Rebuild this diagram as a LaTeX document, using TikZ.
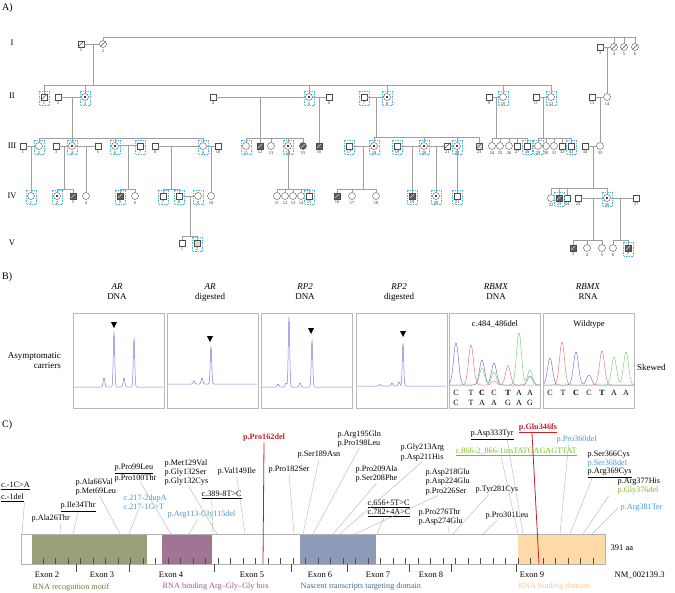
\documentclass[tikz,border=0pt]{standalone}
\usepackage{fontspec}
\setmainfont{Liberation Serif}
\definecolor{testc}{RGB}{70,185,230}
\definecolor{affc}{RGB}{95,95,95}
\definecolor{trc}{RGB}{125,125,215}
\definecolor{chb}{RGB}{120,120,215}
\definecolor{chr}{RGB}{225,125,125}
\definecolor{chg}{RGB}{125,210,125}
\definecolor{domg}{RGB}{152,160,120}
\definecolor{domp}{RGB}{160,116,146}
\definecolor{domb}{RGB}{140,156,184}
\definecolor{domo}{RGB}{253,218,168}
\definecolor{txg}{RGB}{104,122,56}
\definecolor{txp}{RGB}{165,80,155}
\definecolor{txb}{RGB}{60,110,150}
\definecolor{txo}{RGB}{247,200,145}
\definecolor{mblue}{RGB}{70,150,215}
\definecolor{mgreen}{RGB}{120,190,30}
\definecolor{mred}{RGB}{200,30,40}

\begin{document}
\begin{tikzpicture}[x=1pt,y=-1pt,
  declare function={pk(\t,\c,\w)=exp(-min(((\t-\c)/\w)^2,20));}]

\useasboundingbox (0,0) rectangle (675,592);

\tikzset{ped/.style = {draw=gray!75, line width=.4pt}}
\tikzset{male/.style = {rectangle, draw=gray!60!black, line width=.4pt, fill=white, minimum size=6.5pt, inner sep=0pt}}
\tikzset{female/.style = {male, circle, minimum size=7pt}}
\tikzset{deceased/.style = {path picture={\draw[gray!60!black, line width=.4pt] (path picture bounding box.south west) -- (path picture bounding box.north east);}}}
\tikzset{affected/.style = {fill=affc, path picture={\draw[gray!35, line width=.4pt] (path picture bounding box.south west) -- (path picture bounding box.north east);}}}
\tikzset{maleD/.style = {male, deceased}, femaleD/.style = {female, deceased}}
\tikzset{maleA/.style = {male, affected}, femaleA/.style = {female, affected}}
\tikzset{maleG/.style = {male, fill=gray!30}, maleGD/.style = {male, fill=gray!30, deceased}}
\tikzset{femaleC/.style = {female, path picture={\fill[black] (path picture bounding box.center) circle (1.1pt);}}}
\tikzset{num/.style = {font=\fontsize{4.5}{5}\selectfont, inner sep=.3pt, text=black!80}, label distance=1pt}
\tikzset{gen/.style = {font=\fontsize{8.5}{9}\selectfont, inner sep=0pt}}
\tikzset{part/.style = {font=\fontsize{10}{11}\selectfont, inner sep=0pt, anchor=west}}
\tikzset{tbox/.style = {draw=testc, dash pattern=on 1.5pt off 1pt, line width=.6pt}}
\tikzset{hdr/.style = {font=\fontsize{9}{10}\selectfont, align=center, inner sep=0pt}}
\tikzset{panel/.style = {draw=gray!55, line width=.6pt, minimum width=91pt, minimum height=95pt, inner sep=0pt}}
\tikzset{trace/.style = {draw=trc, line width=.5pt}}
\tikzset{base/.style = {font=\fontsize{8}{9}\selectfont, inner sep=0pt}}
\tikzset{mut/.style = {font=\fontsize{8.2}{9.2}\selectfont, inner sep=.5pt, align=left, anchor=west}}
\tikzset{lead/.style = {draw=gray!65, line width=.35pt}}
\tikzset{tick/.style = {draw=gray!60!black, line width=.4pt}}

%%% A) pedigree
\node[part] (pA) at (2,8) {A)};
\node[gen] (gI) at (12,43) {I};
\node[gen] (gII) at (12,96) {II};
\node[gen] (gIII) at (12,146) {III};
\node[gen] (gIV) at (12,196) {IV};
\node[gen] (gV) at (12,243) {V};

%individuals
\foreach \n/\x/\y/\s in {1/81/44/maleD, 2/103/44/femaleD, 3/600/47/male, 4/614/47/femaleD, 5/624/47/femaleD, 6/635/47/femaleD}
  \node[\s, label={[num]below:\n}] (I\n) at (\x,\y) {};
\foreach \n/\x/\s in {1/44/maleD, 2/58/male, 3/85/femaleC, 4/213/male, 5/309/femaleC, 6/329/male, 7/364/male, 8/387/femaleC, 9/489/male, 10/503/female, 11/536/male, 12/551/female, 13/592/male, 14/607/female}
  \node[\s, label={[num]below:\n}] (II\n) at (\x,97) {};
\foreach \n/\x/\s in {1/23/male, 2/39/female, 3/56/male, 4/72/femaleC, 5/98/male, 6/115/femaleC, 7/140/male, 8/155/male, 9/203/female, 10/218/male, 11/246/female, 12/260/maleA, 13/271/female, 14/288/femaleC, 15/303/femaleA, 16/319/maleA, 17/349/male, 18/374/femaleC, 19/397/male, 20/424/femaleC, 21/447/maleD, 22/457/femaleC, 23/479/maleGD, 24/492/female, 25/500/female, 26/509/female, 27/517/male, 28/527/male, 29/538/female, 30/546/female, 31/554/female, 32/562/male, 33/571/male, 34/585/male, 35/600/female}
  \node[\s, label={[num]below:\n}] (III\n) at (\x,146) {};
\foreach \n/\x/\y/\s in {1/31/196/female, 2/57/196/femaleC, 3/73/196/maleA, 4/86/196/female, 5/120/196/maleA, 6/135/196/female, 7/163/196/male, 8/179/196/male, 9/198/196/female, 10/211/196/female, 11/277/196/female, 12/285/196/female, 13/293/196/female, 14/301/196/female, 15/309/196/male, 16/337/196/maleA, 17/352/196/female, 18/376/196/female, 19/412/196/maleA, 20/436/196/femaleC, 21/457/196/male, 22/551/198/female, 23/559/198/maleA, 24/567/198/male, 25/578/198/male, 26/607/198/femaleC, 27/636/198/male}
  \node[\s, label={[num]below:\n}] (IV\n) at (\x,\y) {};
\foreach \n/\x/\y/\s in {1/182/243/male, 2/197/243/maleG, 3/573/248/maleA, 4/587/248/female, 5/602/248/female, 6/613/248/female, 7/628/248/maleA}
  \node[\s, label={[num]below:\n}] (V\n) at (\x,\y) {};

%generation I
\coordinate (tI) at (635,37);
\draw[ped] (I2) |- (tI);
\foreach \c in {I4,I5,I6} \draw[ped] (\c) |- (tI);
\draw[ped] (I1) -- (I2);
\coordinate (fI12) at (93,44);
\coordinate (sI12) at (93,85);
\draw[ped] (fI12) -- (sI12);
\foreach \c in {II1,II3,II5,II8,II10,II12} \draw[ped] (\c) |- (sI12);
\draw[ped] (I3) -- (I4);
\coordinate (fI34) at (607,47);
\draw[ped] (fI34) -- (II14);

%generation II
\draw[ped] (II2) -- (II3);
\coordinate (fII23) at (72,97); \coordinate (sII23) at (72,138);
\draw[ped] (fII23) -- (sII23);
\foreach \c in {III2,III4,III6,III9} \draw[ped] (\c) |- (sII23);
\draw[ped] (II4) -- (II5);
\coordinate (fII45) at (260,97); \coordinate (sII45) at (260,138);
\draw[ped] (fII45) -- (sII45);
\foreach \c in {III11,III12,III13,III14,III15} \draw[ped] (\c) |- (sII45);
\draw[ped] (II5) -- (II6);
\coordinate (fII56) at (319,97);
\draw[ped] (fII56) -- (III16);
\draw[ped] (II7) -- (II8);
\coordinate (fII78) at (376,97); \coordinate (sII78) at (376,137);
\draw[ped] (fII78) -- (sII78);
\foreach \c in {III18,III20,III22,III23} \draw[ped] (\c) |- (sII78);
\draw[ped] (II9) -- (II10);
\coordinate (fII910) at (496,97); \coordinate (sII910) at (496,138);
\draw[ped] (fII910) -- (sII910);
\foreach \c in {III24,III25,III26,III27,III28} \draw[ped] (\c) |- (sII910);
\draw[ped] (II11) -- (II12);
\coordinate (fII1112) at (543,97); \coordinate (sII1112) at (543,138);
\draw[ped] (fII1112) -- (sII1112);
\foreach \c in {III29,III30,III31,III32,III33} \draw[ped] (\c) |- (sII1112);
\draw[ped] (II13) -- (II14);
\coordinate (fII1314) at (600,97);
\draw[ped] (fII1314) -- (III35);

%generation III
\draw[ped] (III1) -- (III2);
\coordinate (fIII12) at (31,146);
\draw[ped] (fIII12) -- (IV1);
\draw[ped] (III3) -- (III4);
\coordinate (fIII34) at (64,146); \coordinate (sIII34) at (64,189);
\draw[ped] (fIII34) -- (sIII34);
\foreach \c in {IV2,IV3} \draw[ped] (\c) |- (sIII34);
\draw[ped] (III4) -- (III5);
\coordinate (fIII45) at (86,146);
\draw[ped] (fIII45) -- (IV4);
\draw[ped, double=white, double distance=.8pt] (III6) -- (III7);
\coordinate (fIII67) at (128,146); \coordinate (sIII67) at (128,189);
\draw[ped] (fIII67) -- (sIII67);
\foreach \c in {IV5,IV6} \draw[ped] (\c) |- (sIII67);
\draw[ped] (III8) -- (III9);
\coordinate (fIII89) at (171,146); \coordinate (sIII89) at (171,189);
\draw[ped] (fIII89) -- (sIII89);
\foreach \c in {IV7,IV8} \draw[ped] (\c) |- (sIII89);
\draw[ped] (III9) -- (III10);
\coordinate (fIII910) at (211,146);
\draw[ped] (fIII910) -- (IV10);
\coordinate (sIII14) at (288,189);
\draw[ped] (III14) -- (sIII14);
\foreach \c in {IV11,IV12,IV13,IV14,IV15} \draw[ped] (\c) |- (sIII14);
\draw[ped] (III17) -- (III18);
\coordinate (fIII1718) at (363,146); \coordinate (sIII1718) at (363,189);
\draw[ped] (fIII1718) -- (sIII1718);
\foreach \c in {IV16,IV17,IV18} \draw[ped] (\c) |- (sIII1718);
\draw[ped] (III19) -- (III20);
\coordinate (fIII1920) at (412,146);
\draw[ped] (fIII1920) -- (IV19);
\draw[ped] (III20) -- (III21);
\coordinate (fIII2021) at (436,146);
\draw[ped] (fIII2021) -- (IV20);
\draw[ped] (III21) -- (III22);
\draw[ped] (III22) -- (IV21);
\draw[ped] (III34) -- (III35);
\coordinate (fIII3435) at (593,146); \coordinate (sIII3435) at (593,188);
\draw[ped] (fIII3435) -- (sIII3435);
\foreach \c in {IV22,IV23,IV24,IV26} \draw[ped] (\c) |- (sIII3435);

%generation IV
\draw[ped] (IV8) -- (IV9);
\coordinate (fIV89) at (190,196); \coordinate (sIV89) at (190,236);
\draw[ped] (fIV89) -- (sIV89);
\foreach \c in {V1,V2} \draw[ped] (\c) |- (sIV89);
\draw[ped] (IV25) -- (IV26);
\coordinate (fIV2526) at (593,198); \coordinate (sIV2526) at (593,240);
\draw[ped] (fIV2526) -- (sIV2526);
\foreach \c in {V3,V4,V5} \draw[ped] (\c) |- (sIV2526);
\draw[ped] (IV26) -- (IV27);
\coordinate (fIV2627) at (620,198); \coordinate (sIV2627) at (620,240);
\draw[ped] (fIV2627) -- (sIV2627);
\foreach \c in {V6,V7} \draw[ped] (\c) |- (sIV2627);

%tested individuals
\foreach \c in {II1,II3,II5,II7,II8,II10,II12,III2,III4,III6,III7,III9,III11,III14,III17,III18,III19,III20,III22,III28,III29,III33,IV1,IV2,IV5,IV7,IV8,IV9,IV15,IV19,IV20,IV21,IV23,IV26,V2,V7}
  \draw[tbox] ([shift={(-5,-6)}]\c.center) rectangle ([shift={(5,8.5)}]\c.center);

%%% B) X-inactivation
\node[part] (pB) at (2,277) {B)};
\node[hdr] (hAR1) at (117,292) {\textit{AR}\\DNA};
\node[hdr] (hAR2) at (210,292) {\textit{AR}\\digested};
\node[hdr] (hRP1) at (305,292) {\textit{RP2}\\DNA};
\node[hdr] (hRP2) at (399,292) {\textit{RP2}\\digested};
\node[hdr] (hRB1) at (496,292) {\textit{RBMX}\\DNA};
\node[hdr] (hRB2) at (588,292) {\textit{RBMX}\\RNA};
\node[hdr, align=right, anchor=east] (carr) at (61,361) {Asymptomatic\\carriers};
\node[hdr, anchor=west] (skew) at (637,367) {Skewed};

\node[panel] (p1) at (118.5,360.5) {};
\node[panel] (p2) at (212.5,360.5) {};
\node[panel] (p3) at (306.5,360.5) {};
\node[panel] (p4) at (401.5,360.5) {};
\node[panel] (p5) at (494.5,360.5) {};
\node[panel] (p6) at (589,360.5) {};

%fragment traces
\draw[trace] plot[domain=74:163, samples=300] (\x, {387-9*pk(\x,104,1.2)-55*pk(\x,114,1)-9*pk(\x,124,1.2)-49*pk(\x,134,1)});
\draw[trace] plot[domain=168:257, samples=300] (\x, {384-3*pk(\x,194,1.2)-6*pk(\x,202,1.2)-38*pk(\x,211,1)});
\draw[trace] plot[domain=261:352, samples=300] (\x, {387-3*pk(\x,278,1.2)-4*pk(\x,286,1.2)-70*pk(\x,289,1)-4*pk(\x,300,1.2)-47*pk(\x,312,1)});
\draw[trace] plot[domain=357:446, samples=300] (\x, {386-1.5*pk(\x,380,1.2)-3*pk(\x,392,1.2)-4*pk(\x,399,1.2)-43*pk(\x,403,1)});
\foreach \x/\y in {114/322, 210/336, 311/328, 403/331}
  \fill (\x-3,\y) -- (\x+3,\y) -- (\x,\y+6) -- cycle;

%chromatograms
\node[base, font=\fontsize{8.5}{9}\selectfont] (t5) at (495,324) {c.484\_486del};
\node[base, font=\fontsize{8.5}{9}\selectfont] (t6) at (589,324) {Wildtype};
\draw[chb, line width=.5pt] plot[domain=449:540, samples=200] (\x, {385-42*pk(\x,456,3.5)-25*pk(\x,482,3.5)-22*pk(\x,494,3.5)-9*pk(\x,530,3.5)});
\draw[chr, line width=.5pt] plot[domain=449:540, samples=200] (\x, {385-40*pk(\x,471,3.5)-19*pk(\x,508,3.5)-4*pk(\x,494,3.5)});
\draw[chg, line width=.5pt] plot[domain=449:540, samples=200] (\x, {385-17*pk(\x,482,3.5)-13*pk(\x,494,3.5)-52*pk(\x,519,3.5)-15*pk(\x,530,3.5)});
\draw[chb, line width=.5pt] plot[domain=544:634, samples=200] (\x, {385-27*pk(\x,550,3.5)-33*pk(\x,576,3.5)-10*pk(\x,589,3.5)});
\draw[chr, line width=.5pt] plot[domain=544:634, samples=200] (\x, {385-43*pk(\x,562,3.5)-34*pk(\x,602,3.5)});
\draw[chg, line width=.5pt] plot[domain=544:634, samples=200] (\x, {385-28*pk(\x,614,3.5)-33*pk(\x,626,3.5)});
\foreach \x/\c [count=\i] in {456/C,471/T,482/\textbf{C},494/C,508/\textbf{T},519/A,530/A}
  \node[base] (bA\i) at (\x,393) {\c};
\foreach \x/\c [count=\i] in {456/C,471/T,482/A,494/A,508/G,519/A,530/G}
  \node[base] (bB\i) at (\x,403) {\c};
\foreach \x/\c [count=\i] in {550/C,563/T,576/\textbf{C},589/C,602/\textbf{T},614/A,626/A}
  \node[base] (bW\i) at (\x,393) {\c};

%%% C) protein
\node[part] (pC) at (2,425) {C)};
\node[minimum width=584pt, minimum height=30pt, inner sep=0pt, outer sep=0pt] (bar) at (313,549) {};
\fill[domg] ([xshift=11]bar.north west) rectangle ([xshift=126]bar.south west);
\fill[domp] ([xshift=141]bar.north west) rectangle ([xshift=191]bar.south west);
\fill[domb] ([xshift=279]bar.north west) rectangle ([xshift=355]bar.south west);
\fill[domo] ([xshift=497]bar.north west) rectangle ([xshift=584]bar.south west);
\draw[gray!60, line width=.5pt] (bar.north west) rectangle (bar.south east);
\foreach \t in {22,34.5,...,580} \draw[tick] ([xshift=\t]bar.south west) -- ++(0,-6);
\foreach \t in {55,108,193,270,326,388,430,495} \draw[tick] ([xshift=\t]bar.south west) -- ++(0,8);
\foreach \x/\e in {47/2,102/3,171/4,252/5,320/6,378/7,431/8,532/9}
  \node[mut, anchor=center, font=\fontsize{8.5}{9}\selectfont] (ex\e) at (\x,575) {Exon \e};
\node[mut, font=\fontsize{8.5}{9}\selectfont] (aa) at (610,548) {391 aa};
\node[mut, font=\fontsize{8.5}{9}\selectfont] (nm) at (614,575) {NM\_002139.3};
\node[mut, text=txg] (d1) at (32,587) {RNA recognition motif};
\node[mut, text=txp] (d2) at (162,587) {RNA binding Arg--Gly--Gly box};
\node[mut, text=txb] (d3) at (300,587) {Nascent transcripts targeting domain};
\node[mut, text=txo] (d4) at (518,587) {RNA binding domain};

%variants
\node[mut] (cA) at (0.5,486) {\underline{c.-1C>A}};
\node[mut] (cdel) at (0.5,498) {\underline{c.-1del}};
\node[mut] (a26) at (31,519) {p.Ala26Thr};
\node[mut] (i34) at (60,507) {\underline{p.Ile34Thr}};
\node[mut] (a66) at (75,487) {p.Ala66Val\\p.Met69Leu};
\node[mut] (p99) at (114,473) {\underline{p.Pro99Leu}\\p.Pro100Thr};
\node[mut, text=mblue] (c217) at (123,502) {c.217-2dupA\\c.217-1G>T};
\node[mut] (m129) at (164,472.5) {p.Met129Val\\p.Gly132Ser\\p.Gly132Cys};
\node[mut, text=mblue] (r113) at (167,515) {p.Arg113-Gly115del};
\node[mut] (c389) at (201,495) {\underline{c.389-8T>C}};
\node[mut] (v149) at (217,472) {p.Val149Ile};
\node[mut, anchor=center, text=mred, font=\fontsize{8.2}{9.2}\selectfont\bfseries] (p162) at (264,438) {p.Pro162del};
\node[mut] (p182) at (268,470) {p.Pro182Ser};
\node[mut] (s189) at (297,455) {p.Ser189Asn};
\node[mut] (r195) at (337,439) {p.Arg195Gln\\p.Pro198Leu};
\node[mut] (g213) at (400,452.5) {p.Gly213Arg\\p.Asp211His};
\node[mut] (p209) at (355,474) {p.Pro209Ala\\p.Ser208Phe};
\node[mut] (d218) at (425,482) {p.Asp218Glu\\p.Asp224Glu\\p.Pro226Ser};
\node[mut] (c656) at (367,508.5) {\underline{c.656+5T>C}\\\underline{c.782+4A>C}};
\node[mut] (p276) at (418,517) {p.Pro276Thr\\p.Asp274Glu};
\node[mut] (y281) at (475,490) {p.Tyr281Cys};
\node[mut] (p301) at (485,516) {p.Pro301Leu};
\node[mut] (d333) at (470,435) {\underline{p.Asp333Tyr}};
\node[mut, text=mgreen] (c866) at (455,452) {\underline{c.866-2\_866-1insTATGAGAGTTAT}};
\node[mut, anchor=center, text=mred, font=\fontsize{8.2}{9.2}\selectfont\bfseries] (e346) at (538,428) {\underline{p.Glu346fs}};
\node[mut, text=mblue] (p360) at (556,440) {p.Pro360del};
\node[mut, font=\fontsize{8.2}{8.5}\selectfont] (s366) at (587,464.5) {p.Ser366Cys\\\textcolor{mblue}{p.Ser368del}\\\underline{p.Arg369Cys}};
\node[mut] (r377) at (617,486.5) {p.Arg377His\\\textcolor{mgreen}{p.Gly376del}};
\node[mut, text=mblue] (r381) at (620,508) {p.Arg381Ter};

%leaders
\draw[lead] (cdel.south east) -- ([xshift=1]bar.north west);
\draw[lead] ([xshift=10pt]a26.south) -- ([xshift=39]bar.north west);
\draw[lead] (i34.south) -- ([xshift=52]bar.north west);
\draw[lead] ([xshift=4pt]a66.south) -- ([xshift=99]bar.north west);
\draw[lead] ([xshift=-7pt]c217.south) -- ([xshift=108]bar.north west);
\draw[lead] ([xshift=5pt]p99.south) -- ([xshift=150]bar.north west);
\draw[lead] ([xshift=2pt]m129.south) -- ([xshift=196]bar.north west);
\draw[lead] ([xshift=-4pt]r113.south) -- ([xshift=168]bar.north west);
\draw[lead] ([xshift=-10pt]c389.south) -- ([xshift=192]bar.north west);
\draw[lead] (v149.south) -- ([xshift=224]bar.north west);
\draw[lead] (p182.south) -- ([xshift=273]bar.north west);
\draw[lead] (s189.south) -- ([xshift=282]bar.north west);
\draw[lead] (r195.south) -- ([xshift=292]bar.north west);
\draw[lead] (p209.south) -- ([xshift=312]bar.north west);
\draw[lead] (g213.south) -- ([xshift=319]bar.north west);
\draw[lead] ([xshift=-10pt]d218.south) -- ([xshift=334]bar.north west);
\draw[lead] ([xshift=-5pt]c656.south) -- ([xshift=356]bar.north west);
\draw[lead] ([xshift=8pt]p276.south) -- ([xshift=428]bar.north west);
\draw[lead] ([xshift=-8pt]y281.south) -- ([xshift=432]bar.north west);
\draw[lead] ([xshift=-10pt]p301.south) -- ([xshift=462]bar.north west);
\draw[lead] ([xshift=-15pt]c866.south) -- ([xshift=497]bar.north west);
\draw[lead] ([xshift=-7pt]d333.south east) -- ([xshift=502]bar.north west);
\draw[lead] ([xshift=-8pt]p360.south) -- ([xshift=539]bar.north west);
\draw[lead] ([xshift=5pt]s366.south west) -- ([xshift=549]bar.north west);
\draw[lead] ([xshift=-8pt]r377.south west) -- ([xshift=562]bar.north west);
\draw[lead] ([xshift=-2pt]r381.west) -- ([xshift=571]bar.north west);
\draw[mred, line width=.8pt] (p162.south) -- ([xshift=242]bar.south west);
\draw[mred, line width=.8pt] ([xshift=-6pt]e346.south) -- ([xshift=518]bar.south west);

\end{tikzpicture}
\end{document}
